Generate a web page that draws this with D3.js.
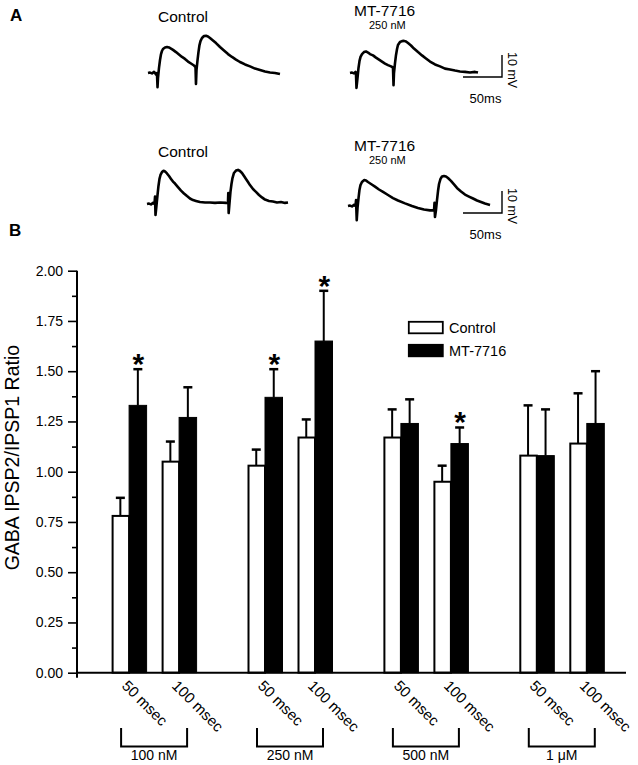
<!DOCTYPE html>
<html><head><meta charset="utf-8">
<script src="https://cdn.jsdelivr.net/npm/d3@7"></script>
<style>body{margin:0;background:#fff}svg{display:block;font-family:"Liberation Sans",Arial,Helvetica,sans-serif}</style>
</head><body><svg id="c" width="638" height="765"></svg>
<script>
// ---------- data: panel B ----------
const groups = ["100 nM", "250 nM", "500 nM", "1 μM"];
const intervals = ["50 msec", "100 msec"];
const seriesNames = ["Control", "MT-7716"];
const controlMean = [0.78, 1.05, 1.03, 1.17, 1.17, 0.95, 1.08, 1.14];
const controlErr  = [0.09, 0.10, 0.08, 0.09, 0.14, 0.08, 0.25, 0.25];
const mtMean      = [1.33, 1.27, 1.37, 1.65, 1.24, 1.14, 1.08, 1.24];
const mtErr       = [0.18, 0.15, 0.14, 0.25, 0.12, 0.08, 0.23, 0.26];
const significant = [true, false, true, true, false, true, false, false];
const yTicks = [0, 0.25, 0.5, 0.75, 1, 1.25, 1.5, 1.75, 2];
const yMinorTicks = [0.125, 0.375, 0.625, 0.875, 1.125, 1.375, 1.625, 1.875];
const yTitle = "GABA IPSP2/IPSP1 Ratio";

// ---------- data: panel A traces [ms, mV] ----------
const traceControl1 = [[0,0],[2.6,0.2],[5.1,-0.2],[7.7,0.5],[9.0,0],[10.3,-0.7],[11.5,0],[12.2,-6.4],[12.8,-2.3],[14.1,2.3],[15.4,5.9],[16.7,8.6],[17.9,10.0],[19.2,10.9],[21.8,11.6],[24.4,11.8],[26.9,11.6],[29.5,11.1],[32.1,10.5],[35.9,9.5],[39.7,8.4],[43.6,7.3],[47.4,6.4],[51.3,5.2],[55.1,4.3],[59.0,3.4],[60.9,2.7],[61.5,-5.0],[62.2,1.4],[63.5,5.9],[64.7,9.5],[66.0,12.7],[67.3,14.5],[69.2,15.9],[71.8,16.8],[74.4,16.9],[76.9,16.6],[79.5,15.9],[83.3,14.8],[87.2,13.6],[92.3,11.8],[97.4,10.2],[102.6,8.6],[107.7,7.3],[112.8,6.1],[117.9,5.0],[124.4,3.9],[130.8,3.0],[137.2,2.0],[143.6,1.4],[150.0,0.7],[156.4,0.2],[162.8,0],[169.2,-0.5]];
const traceMT1 = [[0,0],[2.6,0.2],[5.1,-0.2],[7.1,0.5],[7.7,-0.5],[8.3,-6.8],[9.6,-2.3],[10.9,2.3],[12.2,5.5],[13.5,7.3],[15.4,8.6],[17.9,9.5],[20.5,9.8],[23.1,9.3],[25.6,8.6],[29.5,8.0],[33.3,7.0],[37.2,6.1],[41.0,5.2],[44.9,4.3],[48.7,3.6],[52.6,3.0],[55.1,2.5],[55.8,-5.5],[56.4,0],[57.7,4.5],[59.0,8.2],[60.3,10.9],[61.5,12.7],[64.1,14.1],[66.7,14.5],[69.2,14.6],[71.8,14.3],[74.4,13.6],[78.2,12.5],[82.0,11.1],[87.2,9.5],[92.3,8.0],[97.4,6.6],[102.6,5.2],[109.0,3.9],[115.4,3.0],[121.8,2.0],[128.2,1.6],[134.6,1.1],[141.0,0.7],[147.4,0.5],[153.8,0.2],[160.3,0.5],[164.1,0.2]];
const traceControl2 = [[0,0],[2.6,0.2],[5.1,-0.2],[7.7,0.5],[9.6,0],[10.3,3.4],[10.9,-5.0],[12.2,-0.5],[13.5,4.1],[14.7,8.2],[16.0,11.4],[17.3,13.2],[19.2,14.5],[21.2,15.1],[23.1,14.8],[25.6,13.9],[28.2,12.7],[30.8,11.4],[33.3,10.2],[35.9,9.3],[39.7,7.7],[43.6,6.1],[47.4,4.8],[51.3,3.6],[55.1,2.5],[59.0,1.8],[62.8,1.4],[67.9,0.9],[74.4,0.7],[80.8,0.7],[87.2,0.5],[93.6,0.7],[101.3,0.5],[103.8,0.7],[104.2,5.0],[104.7,-4.1],[105.8,0.5],[107.0,5.5],[108.3,9.1],[109.6,11.8],[111.5,14.1],[114.1,15.2],[116.7,15.5],[119.2,15.0],[121.8,14.1],[124.4,12.7],[126.9,11.4],[129.5,10.0],[132.0,8.6],[135.9,6.8],[139.7,5.5],[143.6,4.1],[147.4,3.0],[151.3,2.0],[156.4,1.4],[161.5,1.1],[166.7,0.7],[171.8,0.9],[176.9,0.5],[180.8,0.7]];
const traceMT2 = [[0,0],[2.6,0.2],[5.1,-0.2],[7.7,0.5],[9.6,0],[10.3,2.7],[11.2,-6.4],[12.2,-0.9],[13.5,3.6],[14.7,7.3],[16.0,9.5],[17.9,10.9],[20.9,11.8],[23.1,11.6],[25.6,10.9],[29.5,10.0],[34.6,8.8],[39.7,7.5],[44.9,6.4],[51.3,5.0],[57.7,3.6],[64.1,2.5],[73.1,1.2],[82.0,0],[89.7,-0.9],[97.4,-1.6],[105.1,-2.0],[110.3,-2.0],[110.9,1.4],[111.5,-5.0],[112.8,-1.8],[114.1,2.7],[115.4,6.8],[116.7,10.0],[118.6,12.3],[120.5,13.4],[123.1,13.6],[125.6,13.4],[128.2,12.7],[132.0,11.4],[135.9,9.8],[139.7,8.2],[144.9,6.6],[150.0,5.2],[155.1,4.3],[160.3,3.4],[165.4,2.5],[170.5,1.8],[175.6,1.1],[182.1,0.5]];
const scaleBarMs = 50, scaleBarMv = 10;
const traceTitleControl = "Control", traceTitleDrug = "MT-7716", traceDose = "250 nM";

// ---------- drawing ----------
const svg = d3.select("#c");
const FONT = '"Liberation Sans",Arial,Helvetica,sans-serif';

// Panel letters
svg.append("text").attr("x", 10).attr("y", 21).attr("font-size", 17).attr("font-weight", "bold").text("A");
svg.append("text").attr("x", 9).attr("y", 236).attr("font-size", 17).attr("font-weight", "bold").text("B");

// ---- Panel A ----
const tx = d3.scaleLinear().domain([0, 50]).range([0, 39]);
const ty = d3.scaleLinear().domain([0, 10]).range([0, -22]);
const line = d3.line().x(d => tx(d[0])).y(d => ty(d[1]));

const rows = [
  {ctrl: traceControl1, mt: traceMT1, cOrig: [148, 73], mOrig: [350, 73], dy: 0, bar: [502, 77]},
  {ctrl: traceControl2, mt: traceMT2, cOrig: [147, 204], mOrig: [348, 206], dy: 135, bar: [502, 213]}
];
rows.forEach(r => {
  [[r.ctrl, r.cOrig], [r.mt, r.mOrig]].forEach(([data, o]) => {
    svg.append("path").attr("transform", `translate(${o[0]},${o[1]})`)
      .attr("d", line(data)).attr("fill", "none").attr("stroke", "#000")
      .attr("stroke-width", 2.6).attr("stroke-linejoin", "round");
  });
  svg.append("text").attr("x", 158).attr("y", 21.5 + r.dy).attr("font-size", 15.5).text(traceTitleControl);
  svg.append("text").attr("x", 354).attr("y", 15.5 + r.dy).attr("font-size", 15.5).text(traceTitleDrug);
  svg.append("text").attr("x", 369).attr("y", 29 + r.dy).attr("font-size", 11).text(traceDose);
  // scale bar
  const [bx, by] = r.bar;
  svg.append("path").attr("transform", `translate(${bx},${by})`)
    .attr("d", `M${-tx(scaleBarMs)},0H0V${ty(scaleBarMv)}`)
    .attr("fill", "none").attr("stroke", "#000").attr("stroke-width", 1.4);
  svg.append("text").attr("x", bx - tx(scaleBarMs) / 2 + 3).attr("y", by + 26)
    .attr("text-anchor", "middle").attr("font-size", 13).text(scaleBarMs + "ms");
  svg.append("text").attr("transform", `translate(${bx + 6},${by + ty(scaleBarMv) - 3}) rotate(90)`)
    .attr("font-size", 12.5).text(scaleBarMv + " mV");
});

// ---- Panel B ----
const y = d3.scaleLinear().domain([0, 2]).range([672.7, 270.7]);
const gx = d3.scalePoint().domain(groups).range([154.1, 561.8]);
const ix = d3.scalePoint().domain(intervals).range([-25, 25]);
const sx = d3.scaleBand().domain(seriesNames).range([-17.5, 17.5]);

const bars = [];
groups.forEach((g, gi) => intervals.forEach((iv, ii) => {
  const k = gi * intervals.length + ii;
  const c = gx(g) + ix(iv);
  bars.push({c, s: seriesNames[0], mean: controlMean[k], err: controlErr[k], sig: false});
  bars.push({c, s: seriesNames[1], mean: mtMean[k], err: mtErr[k], sig: significant[k]});
}));

const bg = svg.append("g");
bars.forEach(b => {
  const x0 = b.c + sx(b.s), w = sx.bandwidth();
  const isCtrl = b.s === seriesNames[0];
  const cx = x0 + w / 2;
  const top = y(b.mean + b.err);
  bg.append("line").attr("x1", cx).attr("x2", cx).attr("y1", y(b.mean)).attr("y2", top)
    .attr("stroke", "#000").attr("stroke-width", 2);
  bg.append("line").attr("x1", cx - 4.5).attr("x2", cx + 4.5).attr("y1", top).attr("y2", top)
    .attr("stroke", "#000").attr("stroke-width", 2.5);
  bg.append("rect").attr("x", x0 + (isCtrl ? 1 : 0)).attr("y", y(b.mean))
    .attr("width", w - (isCtrl ? 1 : 0)).attr("height", y(0) - y(b.mean))
    .attr("fill", isCtrl ? "#fff" : "#000").attr("stroke", "#000").attr("stroke-width", isCtrl ? 2 : 1);
  if (b.sig) {
    bg.append("text").attr("x", cx + 0.5).attr("y", top + 5).attr("text-anchor", "middle")
      .attr("font-size", 30).attr("font-weight", "bold").text("*");
  }
});

// axes
const yAxis = d3.axisLeft(y).tickValues(yTicks).tickFormat(d3.format(".2f"))
  .tickSize(9).tickPadding(5).tickSizeOuter(0);
const ya = svg.append("g").attr("transform", "translate(77,0)").call(yAxis);
ya.select(".domain").remove();
ya.selectAll("text").attr("font-size", 14).attr("font-family", FONT).attr("fill", "#000");
ya.selectAll("line").attr("stroke", "#000").attr("stroke-width", 1.6);
const ym = svg.append("g").attr("transform", "translate(77,0)")
  .call(d3.axisLeft(y).tickValues(yMinorTicks).tickSize(5).tickFormat(""));
ym.select(".domain").remove();
ym.selectAll("line").attr("stroke", "#000").attr("stroke-width", 1.6);
svg.append("line").attr("x1", 77).attr("x2", 77).attr("y1", y(2)).attr("y2", y(0) + 5)
  .attr("stroke", "#000").attr("stroke-width", 2);
svg.append("line").attr("x1", 77).attr("x2", 626).attr("y1", y(0)).attr("y2", y(0))
  .attr("stroke", "#000").attr("stroke-width", 2);

// y title
svg.append("text").attr("transform", `translate(18.5,${y(1.07)}) rotate(-90)`)
  .attr("text-anchor", "middle").attr("font-size", 19.5).text(yTitle);

// x labels
groups.forEach(g => intervals.forEach(iv => {
  const c = gx(g) + ix(iv);
  svg.append("text").attr("transform", `translate(${c - 8},${y(0) + 14}) rotate(45)`)
    .attr("font-size", 15).text(iv);
}));

// brackets
groups.forEach(g => {
  const c = gx(g);
  svg.append("path").attr("d", `M${c - 33},728V746.5H${c + 33}V728`)
    .attr("fill", "none").attr("stroke", "#000").attr("stroke-width", 2);
  svg.append("text").attr("x", c).attr("y", 759.5).attr("text-anchor", "middle")
    .attr("font-size", 14).text(g);
});

// legend
const lg = svg.append("g").attr("transform", "translate(408,321)");
seriesNames.forEach((s, i) => {
  lg.append("rect").attr("x", 0.8).attr("y", i * 23 + 0.8).attr("width", 34).attr("height", 11.5)
    .attr("fill", i === 0 ? "#fff" : "#000").attr("stroke", "#000").attr("stroke-width", 1.8);
  lg.append("text").attr("x", 41).attr("y", i * 23 + 11.5).attr("font-size", 14.5).text(s);
});
</script></body></html>
